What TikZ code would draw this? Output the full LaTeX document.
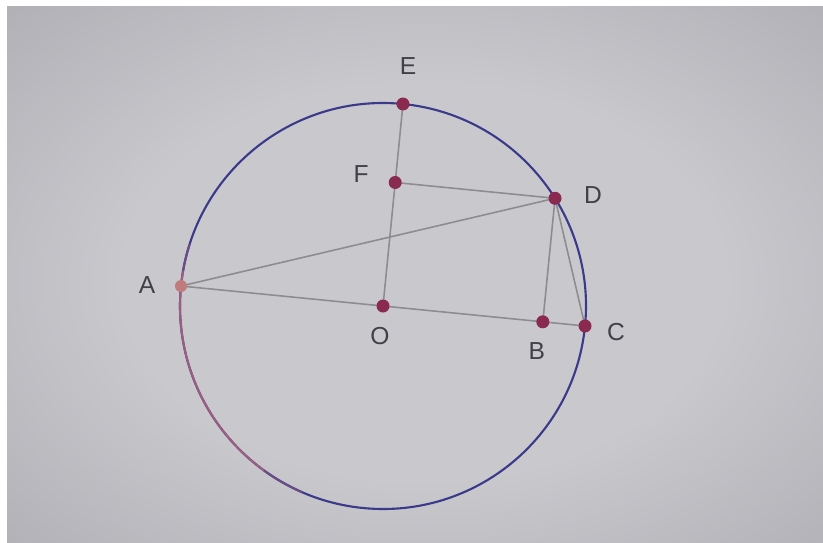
\documentclass[tikz,border=0pt]{standalone}
\usepackage{fontspec}
\setmainfont{Liberation Sans}
\definecolor{paper}{HTML}{C8C8CD}
\definecolor{paperdark}{HTML}{808086}
\definecolor{circleblue}{HTML}{3B3A8A}
\definecolor{circlepink}{HTML}{9C5E80}
\definecolor{segmentgray}{HTML}{8C8C91}
\definecolor{pointred}{HTML}{8A2A50}
\definecolor{pointA}{HTML}{C07C7C}
\definecolor{labelgray}{HTML}{404046}
\pgfdeclareradialshading{vignette}{\pgfpoint{0bp}{0bp}}{color(0bp)=(paper); color(18bp)=(paper); color(71bp)=(paperdark)}
\begin{document}
\begin{tikzpicture}[font=\fontsize{14}{16}\selectfont, line cap=round,
		seg/.style={segmentgray, line width=0.9pt},
		arcline/.style={line width=1.2pt},
		lbl/.style={text=labelgray, inner sep=0pt}]
	
	% 1. Khung ảnh và nền
	\useasboundingbox (0,0) rectangle (16.46,10.84);
	\fill[white] (0,0) rectangle (16.46,10.84);
	\fill[paperdark!60!paper] (0.14,-0.3) rectangle (16.8,10.72);
	\shade[shading=vignette] (0.14,-0.3) rectangle (16.8,10.72);
	
	% 2. Hằng số: bán kính, góc nghiêng, góc của D
	\def\rad{4.06}
	\def\tilt{-5.65}
	\def\angD{37.7}
	
	\begin{scope}[shift={(7.66,4.72)}, rotate=\tilt]
		% 3. Các điểm
		\coordinate (O) at (0,0);
		\coordinate (A) at (180:\rad);
		\coordinate (C) at (0:\rad);
		\coordinate (E) at (90:\rad);
		\coordinate (D) at (\angD:\rad);
		\coordinate (B) at ({\rad*cos(\angD)},0);
		\coordinate (F) at (0,{\rad*sin(\angD)});
		
		% 4. Đường tròn tâm O
		\draw[circleblue, arcline] (O) circle (\rad);
		\draw[circlepink!50!circleblue, arcline] (168:\rad) arc (168:176:\rad);
		\draw[circlepink, arcline] (176:\rad) arc (176:240:\rad);
		\draw[circlepink!50!circleblue, arcline] (240:\rad) arc (240:252:\rad);
	\end{scope}
	
	% 5. Các đoạn thẳng
	\draw[seg] (E) -- (O);
	\draw[seg] (F) -- (D);
	\draw[seg] (A) -- (D);
	\draw[seg] (A) -- (C);
	\draw[seg] (D) -- (B);
	\draw[seg] (D) -- (C);
	
	% 6. Các điểm đậm
	\foreach \p in {E,F,D,O,B,C}
	\fill[pointred] (\p) circle (0.13);
	\fill[pointA] (A) circle (0.12);
	
	% 7. Nhãn
	\node[lbl] (labE) at ([shift={(0.10,0.75)}]E) {E};
	\node[lbl] (labF) at ([shift={(-0.68,0.16)}]F) {F};
	\node[lbl] (labD) at ([shift={(0.76,0.06)}]D) {D};
	\node[lbl] (labA) at ([shift={(-0.68,0.02)}]A) {A};
	\node[lbl] (labO) at ([shift={(-0.06,-0.60)}]O) {O};
	\node[lbl] (labB) at ([shift={(-0.12,-0.58)}]B) {B};
	\node[lbl] (labC) at ([shift={(0.62,-0.12)}]C) {C};
	
\end{tikzpicture}
\end{document}
